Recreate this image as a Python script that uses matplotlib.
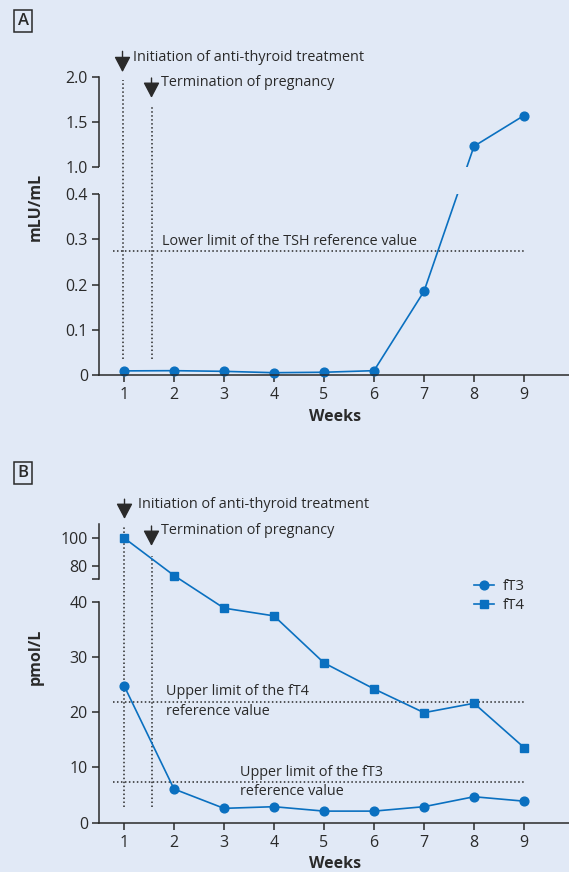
import numpy as np
import matplotlib

matplotlib.use("Agg")
import matplotlib.pyplot as plt

plt.rcParams["font.family"] = ["Open Sans", "DejaVu Sans"]

BG = "#e1e9f6"
INK = "#2a2a2a"
BLUE = "#0a70c0"

weeks = [1, 2, 3, 4, 5, 6, 7, 8, 9]

# panel A: TSH
tsh = [0.009, 0.0095, 0.008, 0.005, 0.006, 0.0095, 0.185, 1.23, 1.57]
tsh_lower_limit = 0.275
a_ticks = [0, 0.1, 0.2, 0.3, 0.4, 1.0, 1.5, 2.0]
a_ticklabels = ["0", "0.1", "0.2", "0.3", "0.4", "1.0", "1.5", "2.0"]

# panel B: fT3 / fT4
ft3 = [24.8, 6.1, 2.6, 2.9, 2.1, 2.1, 2.9, 4.7, 3.9]
ft4 = [100, 72.8, 38.8, 37.4, 28.9, 24.2, 19.9, 21.6, 13.6]
ft4_upper_limit = 21.8
ft3_upper_limit = 7.4
b_ticks = [0, 10, 20, 30, 40, 80, 100]
b_ticklabels = ["0", "10", "20", "30", "40", "80", "100"]

# break settings: (low end, high start, gap in low units, high scale factor)
A_BREAK = (0.4, 1.0, 0.06, 0.2)
B_BREAK = (40, 70, 4, 0.25)


def make_scale(lo, hi, gap, k):
    def fwd(y):
        y = np.asarray(y, dtype=float)
        mid = lo + (y - lo) * gap / (hi - lo)
        return np.where(y <= lo, y, np.where(y >= hi, lo + gap + (y - hi) * k, mid))

    def inv(t):
        t = np.asarray(t, dtype=float)
        mid = lo + (t - lo) * (hi - lo) / gap
        return np.where(t <= lo, t, np.where(t >= lo + gap, hi + (t - lo - gap) / k, mid))

    return fwd, inv


def style_axes(ax, brk, ymax, ticks, labels, extra_tick=None):
    lo, hi, gap, k = brk
    ax.set_facecolor("none")
    ax.set_yscale("function", functions=make_scale(*brk))
    ax.set_xlim(0.5, 9.9)
    ax.set_ylim(0, ymax)
    for s in ["top", "right", "left"]:
        ax.spines[s].set_visible(False)
    ax.spines["bottom"].set_color(INK)
    ax.spines["bottom"].set_linewidth(1.1)
    tr = ax.get_yaxis_transform()
    ax.plot([0, 0], [0, lo], color=INK, lw=1.1, transform=tr, clip_on=False)
    ax.plot([0, 0], [hi, ymax], color=INK, lw=1.1, transform=tr, clip_on=False)
    ax.set_yticks(ticks)
    ax.set_yticklabels(labels)
    if extra_tick is not None:
        ax.set_yticks([extra_tick], minor=True)
    else:
        ax.yaxis.set_minor_locator(matplotlib.ticker.NullLocator())
    ax.set_xticks(weeks)
    ax.tick_params(axis="both", which="both", length=5, width=1.1, color=INK,
                   labelcolor=INK, labelsize=11.5, pad=3)
    ax.tick_params(axis="x", pad=3.5)


def event(ax, x_arrow, y_top, y_tip, x_text, y_text, text):
    ax.annotate("", xy=(x_arrow, y_tip), xytext=(x_arrow, y_top),
                arrowprops=dict(arrowstyle="-|>,head_length=0.95,head_width=0.5",
                                mutation_scale=10, color=INK, lw=1.0,
                                shrinkA=0, shrinkB=0),
                annotation_clip=False)
    ax.text(x_text, y_text, text, ha="left", va="center", fontsize=10.4,
            color=INK, clip_on=False)


def vdots(ax, x, y0, y1):
    ax.plot([x, x], [y0, y1], color=INK, lw=1.1, ls=(0, (1, 1.6)),
            zorder=4, clip_on=False)


def hdots(ax, y, x0=0.77, x1=9.0):
    ax.plot([x0, x1], [y, y], color=INK, lw=1.1, ls=(0, (1, 1.6)),
            zorder=4, clip_on=False)


fig = plt.figure(figsize=(5.69, 8.72), dpi=100, facecolor=BG)

# ---------------- Panel A ----------------
axA = fig.add_axes([0.174, 0.570, 0.826, 0.3421])
style_axes(axA, A_BREAK, 2.0, a_ticks, a_ticklabels)
axA.plot(weeks, tsh, color=BLUE, lw=1.2, marker="o", ms=6.3, zorder=2, clip_on=False)
# mask the line where the axis is broken
axA.axhspan(A_BREAK[0], A_BREAK[1], color=BG, zorder=3, lw=0)
vdots(axA, 0.97, 0.035, 1.965)
vdots(axA, 1.55, 0.035, 1.66)
hdots(axA, tsh_lower_limit)
axA.text(1.754, 0.296, "Lower limit of the TSH reference value", ha="left",
         va="center", fontsize=10.4, color=INK)
event(axA, 0.97, 2.28, 2.05, 1.174, 2.21, "Initiation of anti-thyroid treatment")
event(axA, 1.55, 1.985, 1.765, 1.748, 1.93, "Termination of pregnancy")

# ---------------- Panel B ----------------
axB = fig.add_axes([0.174, 0.0565, 0.826, 0.3425])
style_axes(axB, B_BREAK, 110, b_ticks, b_ticklabels, extra_tick=70)
axB.plot(weeks, ft3, color=BLUE, lw=1.2, marker="o", ms=6.3, zorder=5,
         clip_on=False, label="fT3")
axB.plot(weeks, ft4, color=BLUE, lw=1.2, marker="s", ms=6, zorder=5,
         clip_on=False, label="fT4")
vdots(axB, 1.0, 2.9, 108)
vdots(axB, 1.55, 2.9, 87)
hdots(axB, ft4_upper_limit)
hdots(axB, ft3_upper_limit)
axB.text(1.848, 23.7, "Upper limit of the fT4", ha="left", va="center",
         fontsize=10.4, color=INK)
axB.text(1.848, 20.1, "reference value", ha="left", va="center",
         fontsize=10.4, color=INK)
axB.text(3.314, 9.1, "Upper limit of the fT3", ha="left", va="center",
         fontsize=10.4, color=INK)
axB.text(3.314, 5.6, "reference value", ha="left", va="center",
         fontsize=10.4, color=INK)
event(axB, 1.01, 128, 113.7, 1.274, 123.8, "Initiation of anti-thyroid treatment")
event(axB, 1.55, 108.6, 94.2, 1.748, 105, "Termination of pregnancy")
leg = axB.legend(loc="center left", bbox_to_anchor=(0.798, 0.759), frameon=False,
                 fontsize=10.8, handlelength=1.3, handletextpad=0.6,
                 labelspacing=0.25, borderpad=0, borderaxespad=0)
for t in leg.get_texts():
    t.set_color(INK)

# labels
W, H = 569, 872
fig.text(36 / W, 1 - 207 / H, "mLU/mL", rotation=90, ha="center", va="center",
         fontsize=11.5, fontweight="bold", color=INK)
fig.text(36 / W, 1 - 657 / H, "pmol/L", rotation=90, ha="center", va="center",
         fontsize=11.5, fontweight="bold", color=INK)
fig.text(335 / W, 1 - 417 / H, "Weeks", ha="center", va="center",
         fontsize=11.5, fontweight="bold", color=INK)
fig.text(335 / W, 1 - 864 / H, "Weeks", ha="center", va="center",
         fontsize=11.5, fontweight="bold", color=INK)
for lab, yc in [("A", 21), ("B", 473)]:
    fig.text(23 / W, 1 - yc / H, lab, ha="center", va="center", fontsize=12,
             fontweight="semibold", color=INK,
             bbox=dict(boxstyle="square,pad=0.2", fc="none", ec=INK, lw=1.1))

fig.savefig("out.png", dpi=100, facecolor=BG)
